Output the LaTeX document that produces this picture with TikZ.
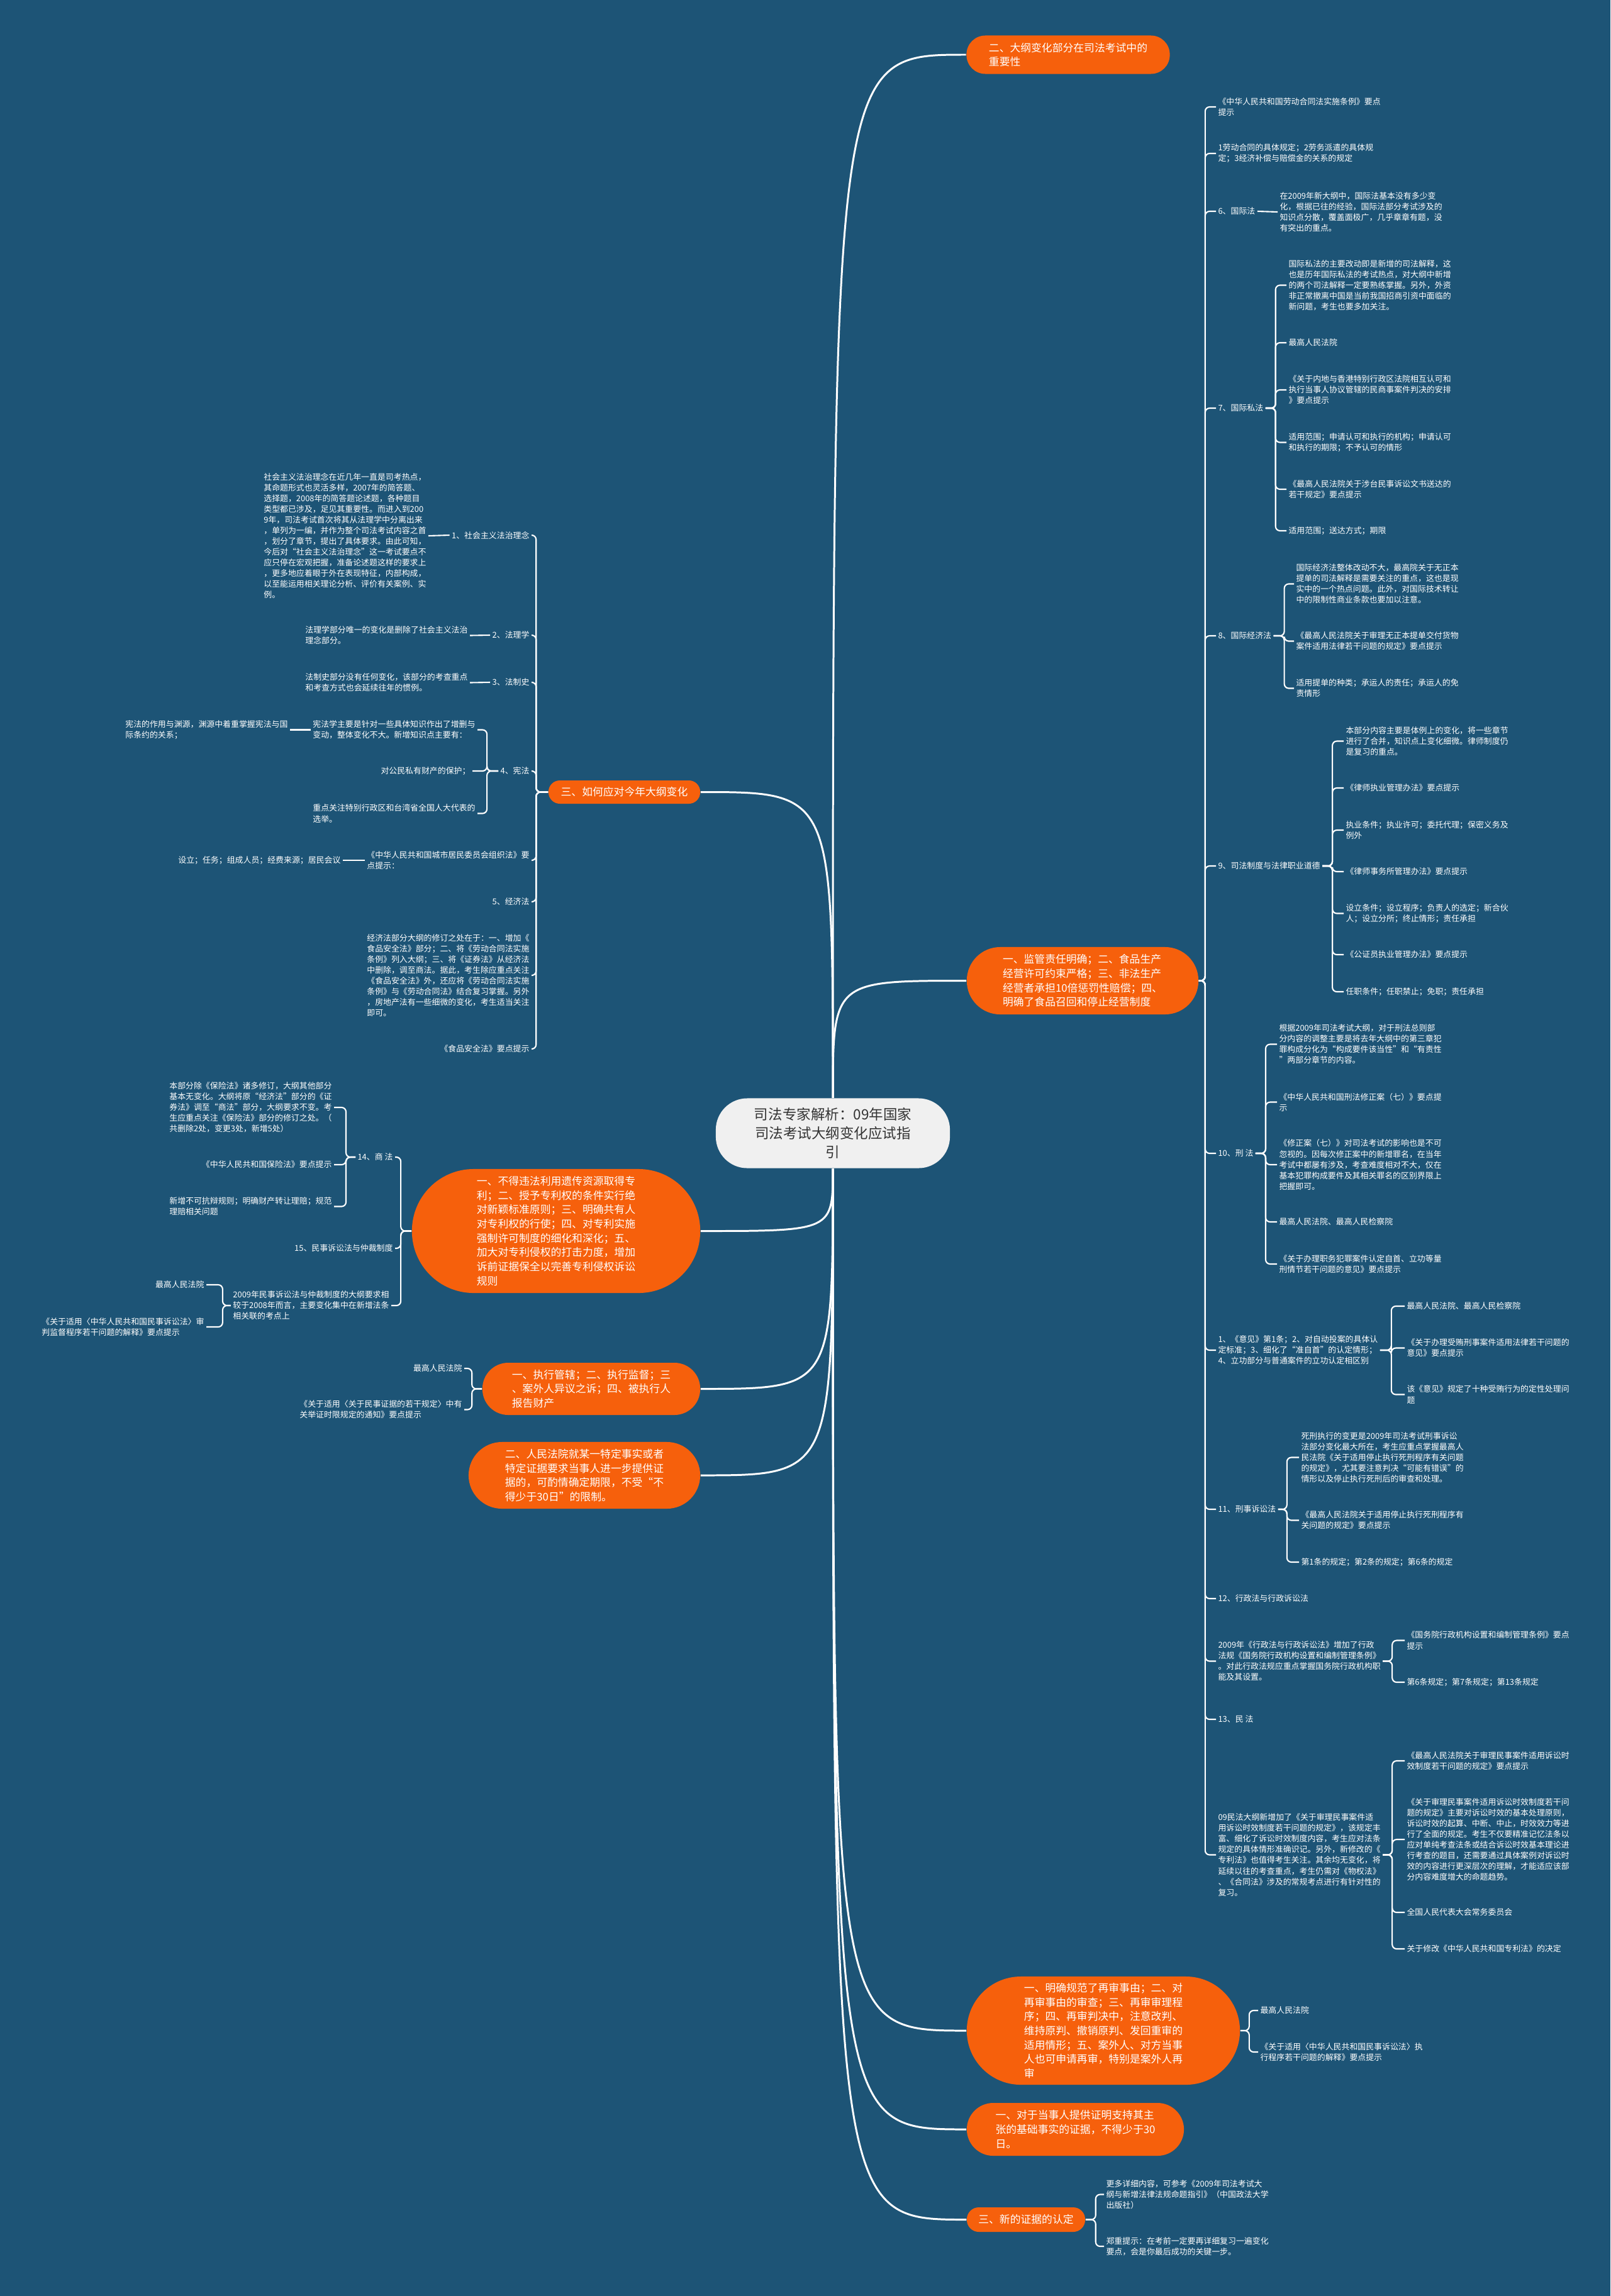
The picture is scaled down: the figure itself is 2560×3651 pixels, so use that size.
\documentclass[tikz,border=0pt]{standalone}
\usepackage{fontspec}
\setmainfont{Noto Sans CJK SC}
\definecolor{MapBlue}{RGB}{29,84,118}
\definecolor{MapOrange}{RGB}{246,96,12}
\definecolor{MapGrey}{RGB}{240,240,240}
\definecolor{MapText}{RGB}{51,51,51}

\begin{document}
\begin{tikzpicture}[x=0.01cm, y=-0.01cm,
  hub/.style={shape=rectangle, rounded corners=0.5cm, fill=MapGrey, text=MapText, align=center, font=\fontsize{6.4}{8.54}\selectfont, minimum width=3.72cm, minimum height=1.11cm, inner sep=0},
  topic/.style={shape=rectangle, fill=MapOrange, text=white, align=left, font=\fontsize{4.78}{6.45}\selectfont, inner sep=0},
  leaf/.style={text=white, align=left, font=\fontsize{3.67}{4.84}\selectfont, inner sep=0.8pt},
  branch/.style={draw=white, line width=0.85pt},
  link/.style={draw=white, line width=0.6pt, rounded corners=2pt},
  fork/.style={to path={-- ++(#1,0) |- (\tikztotarget)}}]

		% Background
		\useasboundingbox (0,0) rectangle (2560,3651);
		\fill[MapBlue] (0,0) rectangle (2560,3651);

		% Centre
		\node[hub] (hub) at (1324,1802) {司法专家解析：09年国家\\司法考试大纲变化应试指\\引};

		% Right topics
		\node[topic, minimum width=3.23cm, minimum height=0.61cm, rounded corners=0.3cm] (importance) at (1698,87) {二、大纲变化部分在司法考试中的\\重要性};
		\node[topic, minimum width=3.68cm, minimum height=1.07cm, rounded corners=0.53cm] (foodlaw) at (1721,1559.5) {一、监管责任明确；二、食品生产\\经营许可约束严格；三、非法生产\\经营者承担10倍惩罚性赔偿；四、\\明确了食品召回和停止经营制度};
		\node[topic, minimum width=4.34cm, minimum height=1.72cm, rounded corners=0.86cm] (retrial) at (1754,3229) {一、明确规范了再审事由；二、对\\再审事由的审查；三、再审审理程\\序；四、再审判决中，注意改判、\\维持原判、撤销原判、发回重审的\\适用情形；五、案外人、对方当事\\人也可申请再审，特别是案外人再\\审};
		\node[topic, minimum width=3.45cm, minimum height=0.84cm, rounded corners=0.42cm] (proofterm) at (1709.5,3386) {一、对于当事人提供证明支持其主\\张的基础事实的证据，不得少于30\\日。};
		\node[topic, minimum width=1.88cm, minimum height=0.39cm, rounded corners=0.19cm] (newproof) at (1631,3529.5) {三、新的证据的认定};

		% Left topics
		\node[topic, minimum width=2.41cm, minimum height=0.37cm, rounded corners=0.18cm] (cope) at (992.5,1259.5) {三、如何应对今年大纲变化};
		\node[topic, minimum width=4.58cm, minimum height=1.97cm, rounded corners=0.98cm] (patent) at (884,1957.5) {一、不得违法利用遗传资源取得专\\利；二、授予专利权的条件实行绝\\对新颖标准原则；三、明确共有人\\对专利权的行使；四、对专利实施\\强制许可制度的细化和深化；五、\\加大对专利侵权的打击力度，增加\\诉前证据保全以完善专利侵权诉讼\\规则};
		\node[topic, minimum width=3.46cm, minimum height=0.83cm, rounded corners=0.41cm] (execution) at (940,2208.5) {一、执行管辖；二、执行监督；三\\、案外人异议之诉；四、被执行人\\报告财产};
		\node[topic, minimum width=3.68cm, minimum height=1.06cm, rounded corners=0.53cm] (courtterm) at (929,2346) {二、人民法院就某一特定事实或者\\特定证据要求当事人进一步提供证\\据的，可酌情确定期限，不受“不\\得少于30日”的限制。};

		% Right column
		\node[leaf, anchor=west] (labour) at (1933,170) {《中华人民共和国劳动合同法实施条例》要点\\提示};
		\node[leaf, anchor=west] (labourpts) at (1933,244) {1劳动合同的具体规定；2劳务派遣的具体规\\定；3经济补偿与赔偿金的关系的规定};
		\node[leaf, anchor=west] (intl) at (1933,336) {6、国际法};
		\node[leaf, anchor=west] (intlnote) at (2031,337) {在2009年新大纲中，国际法基本没有多少变\\化，根据已往的经验，国际法部分考试涉及的\\知识点分散，覆盖面极广，几乎章章有题，没\\有突出的重点。};
		\node[leaf, anchor=west] (privintl) at (1933,649) {7、国际私法};
		\node[leaf, anchor=west] (pi1) at (2045,453.5) {国际私法的主要改动即是新增的司法解释，这\\也是历年国际私法的考试热点，对大纲中新增\\的两个司法解释一定要熟练掌握。另外，外资\\非正常撤离中国是当前我国招商引资中面临的\\新问题，考生也要多加关注。};
		\node[leaf, anchor=west] (pi2) at (2045,545) {最高人民法院};
		\node[leaf, anchor=west] (pi3) at (2045,620) {《关于内地与香港特别行政区法院相互认可和\\执行当事人协议管辖的民商事案件判决的安排\\》要点提示};
		\node[leaf, anchor=west] (pi4) at (2045,703.5) {适用范围；申请认可和执行的机构；申请认可\\和执行的期限；不予认可的情形};
		\node[leaf, anchor=west] (pi5) at (2045,778) {《最高人民法院关于涉台民事诉讼文书送达的\\若干规定》要点提示};
		\node[leaf, anchor=west] (pi6) at (2045,844) {适用范围；送达方式；期限};
		\node[leaf, anchor=west] (econintl) at (1933,1011) {8、国际经济法};
		\node[leaf, anchor=west] (ei1) at (2057,928.5) {国际经济法整体改动不大，最高院关于无正本\\提单的司法解释是需要关注的重点，这也是现\\实中的一个热点问题。此外，对国际技术转让\\中的限制性商业条款也要加以注意。};
		\node[leaf, anchor=west] (ei2) at (2057,1019.5) {《最高人民法院关于审理无正本提单交付货物\\案件适用法律若干问题的规定》要点提示};
		\node[leaf, anchor=west] (ei3) at (2057,1094.5) {适用提单的种类；承运人的责任；承运人的免\\责情形};
		\node[leaf, anchor=west] (judsys) at (1933,1377) {9、司法制度与法律职业道德};
		\node[leaf, anchor=west] (js1) at (2136,1178.5) {本部分内容主要是体例上的变化，将一些章节\\进行了合并，知识点上变化细微。律师制度仍\\是复习的重点。};
		\node[leaf, anchor=west] (js2) at (2136,1253) {《律师执业管理办法》要点提示};
		\node[leaf, anchor=west] (js3) at (2136,1320) {执业条件；执业许可；委托代理；保密义务及\\例外};
		\node[leaf, anchor=west] (js4) at (2136,1386) {《律师事务所管理办法》要点提示};
		\node[leaf, anchor=west] (js5) at (2136,1452.5) {设立条件；设立程序；负责人的选定；新合伙\\人；设立分所；终止情形；责任承担};
		\node[leaf, anchor=west] (js6) at (2136,1518) {《公证员执业管理办法》要点提示};
		\node[leaf, anchor=west] (js7) at (2136,1577) {任职条件；任职禁止；免职；责任承担};
		\node[leaf, anchor=west] (crim) at (1933,1834) {10、刑 法};
		\node[leaf, anchor=west] (cr1) at (2030,1660.5) {根据2009年司法考试大纲，对于刑法总则部\\分内容的调整主要是将去年大纲中的第三章犯\\罪构成分化为“构成要件该当性”和“有责性\\”两部分章节的内容。};
		\node[leaf, anchor=west] (cr2) at (2030,1752.5) {《中华人民共和国刑法修正案（七）》要点提\\示};
		\node[leaf, anchor=west] (cr3) at (2030,1852) {《修正案（七）》对司法考试的影响也是不可\\忽视的。因每次修正案中的新增罪名，在当年\\考试中都屡有涉及，考查难度相对不大，仅在\\基本犯罪构成要件及其相关罪名的区别界限上\\把握即可。};
		\node[leaf, anchor=west] (cr4) at (2030,1943) {最高人民法院、最高人民检察院};
		\node[leaf, anchor=west] (cr5) at (2030,2010) {《关于办理职务犯罪案件认定自首、立功等量\\刑情节若干问题的意见》要点提示};
		\node[leaf, anchor=west] (opinion) at (1933,2147) {1、《意见》第1条；2、对自动投案的具体认\\定标准；3、细化了“准自首”的认定情形；\\4、立功部分与普通案件的立功认定相区别};
		\node[leaf, anchor=west] (op1) at (2233,2077) {最高人民法院、最高人民检察院};
		\node[leaf, anchor=west] (op2) at (2233,2143.5) {《关于办理受贿刑事案件适用法律若干问题的\\意见》要点提示};
		\node[leaf, anchor=west] (op3) at (2233,2217.5) {该《意见》规定了十种受贿行为的定性处理问\\题};
		\node[leaf, anchor=west] (crimproc) at (1933,2400) {11、刑事诉讼法};
		\node[leaf, anchor=west] (cp1) at (2065,2317.5) {死刑执行的变更是2009年司法考试刑事诉讼\\法部分变化最大所在，考生应重点掌握最高人\\民法院《关于适用停止执行死刑程序有关问题\\的规定》，尤其要注意判决“可能有错误”的\\情形以及停止执行死刑后的审查和处理。};
		\node[leaf, anchor=west] (cp2) at (2065,2417.5) {《最高人民法院关于适用停止执行死刑程序有\\关问题的规定》要点提示};
		\node[leaf, anchor=west] (cp3) at (2065,2484) {第1条的规定；第2条的规定；第6条的规定};
		\node[leaf, anchor=west] (admin) at (1933,2542) {12、行政法与行政诉讼法};
		\node[leaf, anchor=west] (adminnote) at (1933,2641.5) {2009年《行政法与行政诉讼法》增加了行政\\法规《国务院行政机构设置和编制管理条例》\\。对此行政法规应重点掌握国务院行政机构职\\能及其设置。};
		\node[leaf, anchor=west] (an1) at (2233,2608.5) {《国务院行政机构设置和编制管理条例》要点\\提示};
		\node[leaf, anchor=west] (an2) at (2233,2675) {第6条规定；第7条规定；第13条规定};
		\node[leaf, anchor=west] (civil) at (1933,2734) {13、民 法};
		\node[leaf, anchor=west] (civilnote) at (1933,2949.5) {09民法大纲新增加了《关于审理民事案件适\\用诉讼时效制度若干问题的规定》，该规定丰\\富、细化了诉讼时效制度内容，考生应对法条\\规定的具体情形准确识记。另外，新修改的《\\专利法》也值得考生关注。其余均无变化，将\\延续以往的考查重点，考生仍需对《物权法》\\、《合同法》涉及的常规考点进行有针对性的\\复习。};
		\node[leaf, anchor=west] (cn1) at (2233,2800) {《最高人民法院关于审理民事案件适用诉讼时\\效制度若干问题的规定》要点提示};
		\node[leaf, anchor=west] (cn2) at (2233,2925) {《关于审理民事案件适用诉讼时效制度若干问\\题的规定》主要对诉讼时效的基本处理原则，\\诉讼时效的起算、中断、中止，时效效力等进\\行了全面的规定。考生不仅要精准记忆法条以\\应对单纯考查法条或结合诉讼时效基本理论进\\行考查的题目，还需要通过具体案例对诉讼时\\效的内容进行更深层次的理解，才能适应该部\\分内容难度增大的命题趋势。};
		\node[leaf, anchor=west] (cn3) at (2233,3041) {全国人民代表大会常务委员会};
		\node[leaf, anchor=west] (cn4) at (2233,3099) {关于修改《中华人民共和国专利法》的决定};

		% Retrial and new proof
		\node[leaf, anchor=west] (rt1) at (2000,3197) {最高人民法院};
		\node[leaf, anchor=west] (rt2) at (2000,3263) {《关于适用〈中华人民共和国民事诉讼法〉执\\行程序若干问题的解释》要点提示};
		\node[leaf, anchor=west] (np1) at (1755,3489.5) {更多详细内容，可参考《2009年司法考试大\\纲与新增法律法规命题指引》（中国政法大学\\出版社）};
		\node[leaf, anchor=west] (np2) at (1755,3572) {郑重提示：在考前一定要再详细复习一遍变化\\要点，会是你最后成功的关键一步。};

		% Left column
		\node[leaf, anchor=east] (ideal) at (845,851) {1、社会主义法治理念};
		\node[leaf, anchor=east] (idealnote) at (681,852) {社会主义法治理念在近几年一直是司考热点，\\其命题形式也灵活多样，2007年的简答题、\\选择题，2008年的简答题论述题，各种题目\\类型都已涉及，足见其重要性。而进入到200\\9年，司法考试首次将其从法理学中分离出来\\，单列为一编，并作为整个司法考试内容之首\\，划分了章节，提出了具体要求。由此可知，\\今后对“社会主义法治理念”这一考试要点不\\应只停在宏观把握，准备论述题这样的要求上\\，更多地应着眼于外在表现特征，内部构成，\\以至能运用相关理论分析、评价有关案例、实\\例。};
		\node[leaf, anchor=east] (jurispr) at (845,1010) {2、法理学};
		\node[leaf, anchor=east] (jurisprnote) at (747,1010.5) {法理学部分唯一的变化是删除了社会主义法治\\理念部分。};
		\node[leaf, anchor=east] (legalhist) at (845,1085) {3、法制史};
		\node[leaf, anchor=east] (legalhistnote) at (747,1085.5) {法制史部分没有任何变化，该部分的考查重点\\和考查方式也会延续往年的惯例。};
		\node[leaf, anchor=east] (const) at (845,1226) {4、宪法};
		\node[leaf, anchor=east] (cs1) at (759,1160.5) {宪法学主要是针对一些具体知识作出了增删与\\变动，整体变化不大。新增知识点主要有：};
		\node[leaf, anchor=east] (cs1a) at (461,1160.5) {宪法的作用与渊源，渊源中着重掌握宪法与国\\际条约的关系；};
		\node[leaf, anchor=east] (cs2) at (751,1226) {对公民私有财产的保护；};
		\node[leaf, anchor=east] (cs3) at (759,1293.5) {重点关注特别行政区和台湾省全国人大代表的\\选举。};
		\node[leaf, anchor=east] (resid) at (845,1368) {《中华人民共和国城市居民委员会组织法》要\\点提示：};
		\node[leaf, anchor=east] (residnote) at (545,1368) {设立；任务；组成人员；经费来源；居民会议};
		\node[leaf, anchor=east] (econ) at (845,1434) {5、经济法};
		\node[leaf, anchor=east] (econnote) at (845,1551) {经济法部分大纲的修订之处在于：一、增加《\\食品安全法》部分；二、将《劳动合同法实施\\条例》列入大纲；三、将《证券法》从经济法\\中删除，调至商法。据此，考生除应重点关注\\《食品安全法》外，还应将《劳动合同法实施\\条例》与《劳动合同法》结合复习掌握。另外\\，房地产法有一些细微的变化，考生适当关注\\即可。};
		\node[leaf, anchor=east] (foodsafe) at (845,1668) {《食品安全法》要点提示};

		% Patent branch
		\node[leaf, anchor=east] (commerce) at (628,1840) {14、商 法};
		\node[leaf, anchor=east] (cm1) at (531,1761) {本部分除《保险法》诸多修订，大纲其他部分\\基本无变化。大纲将原“经济法”部分的《证\\券法》调至“商法”部分，大纲要求不变。考\\生应重点关注《保险法》部分的修订之处。（\\共删除2处，变更3处，新增5处）};
		\node[leaf, anchor=east] (cm2) at (531,1852) {《中华人民共和国保险法》要点提示};
		\node[leaf, anchor=east] (cm3) at (531,1918.5) {新增不可抗辩规则；明确财产转让理赔；规范\\理赔相关问题};
		\node[leaf, anchor=east] (civproc) at (628,1985) {15、民事诉讼法与仲裁制度};
		\node[leaf, anchor=east] (civprocnote) at (622,2076) {2009年民事诉讼法与仲裁制度的大纲要求相\\较于2008年而言，主要变化集中在新增法条\\相关联的考点上};
		\node[leaf, anchor=east] (cpn1) at (328,2043) {最高人民法院};
		\node[leaf, anchor=east] (cpn2) at (328,2110) {《关于适用〈中华人民共和国民事诉讼法〉审\\判监督程序若干问题的解释》要点提示};

		% Execution branch
		\node[leaf, anchor=east] (ex1) at (738,2176) {最高人民法院};
		\node[leaf, anchor=east] (ex2) at (738,2241.5) {《关于适用〈关于民事证据的若干规定〉中有\\关举证时限规定的通知》要点提示};

		% Branches from the centre
		\draw[branch] (hub.north) .. controls (hub.north |- importance.west) .. (importance.west);
		\draw[branch] (hub.north) .. controls (hub.north |- foodlaw.west) .. (foodlaw.west);
		\draw[branch] (hub.north) .. controls (hub.north |- cope.east) .. (cope.east);
		\draw[branch] (hub.south) .. controls (hub.south |- patent.east) .. (patent.east);
		\draw[branch] (hub.south) .. controls (hub.south |- execution.east) .. (execution.east);
		\draw[branch] (hub.south) .. controls (hub.south |- courtterm.east) .. (courtterm.east);
		\draw[branch] (hub.south) .. controls (hub.south |- retrial.west) .. (retrial.west);
		\draw[branch] (hub.south) .. controls (hub.south |- proofterm.west) .. (proofterm.west);
		\draw[branch] (hub.south) .. controls (hub.south |- newproof.west) .. (newproof.west);

		% Right links
		\foreach \c in {labour,labourpts,intl,privintl,econintl,judsys,crim,opinion,crimproc,admin,adminnote,civil,civilnote}
			\draw[link] (foodlaw.east) to[fork=10] (\c.west);
		\draw[link] (intl.east) -- (intlnote.west);
		\foreach \i in {1,...,6} \draw[link] (privintl.east) to[fork=16] (pi\i.west);
		\foreach \i in {1,2,3} \draw[link] (econintl.east) to[fork=17] (ei\i.west);
		\foreach \i in {1,...,7} \draw[link] (judsys.east) to[fork=16] (js\i.west);
		\foreach \i in {1,...,5} \draw[link] (crim.east) to[fork=16] (cr\i.west);
		\foreach \i in {1,2,3} \draw[link] (opinion.east) to[fork=18] (op\i.west);
		\foreach \i in {1,2,3} \draw[link] (crimproc.east) to[fork=14] (cp\i.west);
		\foreach \i in {1,2} \draw[link] (adminnote.east) to[fork=15] (an\i.west);
		\foreach \i in {1,...,4} \draw[link] (civilnote.east) to[fork=15] (cn\i.west);
		\foreach \i in {1,2} \draw[link] (retrial.east) to[fork=14] (rt\i.west);
		\foreach \i in {1,2} \draw[link] (newproof.east) to[fork=16] (np\i.west);

		% Left links
		\foreach \c in {ideal,jurispr,legalhist,const,resid,econ,econnote,foodsafe}
			\draw[link] (cope.west) to[fork=-19] (\c.east);
		\draw[link] (ideal.west) -- (idealnote.east);
		\draw[link] (jurispr.west) -- (jurisprnote.east);
		\draw[link] (legalhist.west) -- (legalhistnote.east);
		\draw[link] (resid.west) -- (residnote.east);
		\draw[link] (cs1.west) -- (cs1a.east);
		\foreach \i in {1,2,3} \draw[link] (const.west) to[fork=-18] (cs\i.east);
		\foreach \c in {commerce,civproc,civprocnote}
			\draw[link] (patent.west) to[fork=-17] (\c.east);
		\foreach \i in {1,2,3} \draw[link] (commerce.west) to[fork=-15] (cm\i.east);
		\foreach \i in {1,2} \draw[link] (civprocnote.west) to[fork=-13] (cpn\i.east);
		\foreach \i in {1,2} \draw[link] (execution.west) to[fork=-16] (ex\i.east);
\end{tikzpicture}
\end{document}
